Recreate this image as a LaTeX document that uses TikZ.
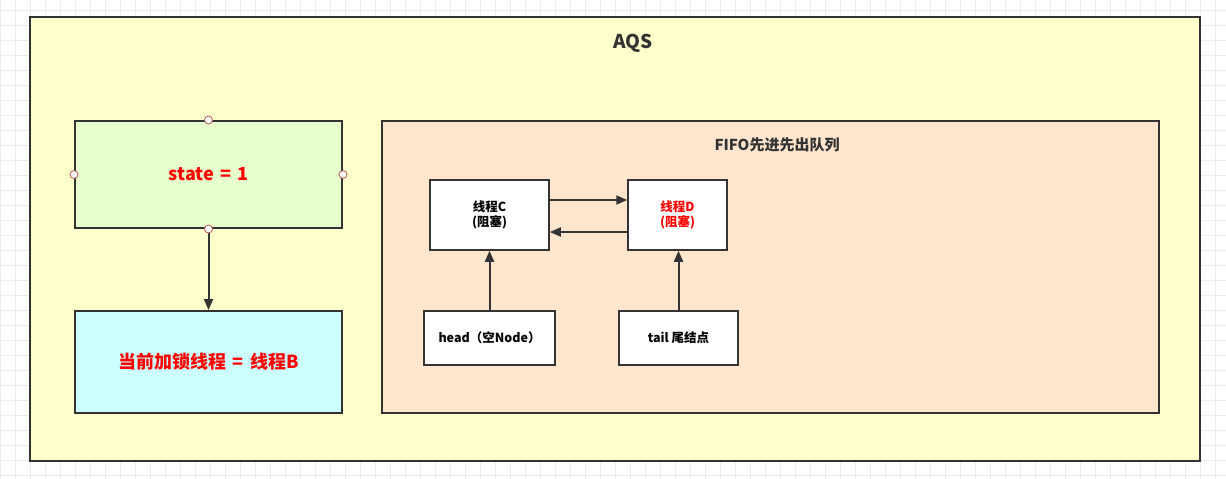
\documentclass[tikz,border=0pt]{standalone}
\usepackage{fontspec}
\setmainfont{Noto Sans CJK SC}
\usetikzlibrary{arrows.meta}
\definecolor{linegray}{HTML}{333333}
\definecolor{aqsyellow}{HTML}{FFFFCC}
\definecolor{stategreen}{HTML}{E6FFCC}
\definecolor{ownercyan}{HTML}{CCFFFF}
\definecolor{queuepeach}{HTML}{FFE6CC}
\definecolor{pinred}{HTML}{B85450}
\definecolor{txtred}{HTML}{FF0000}
\newcommand{\eqgap}{\hspace{0.35em}}
\tikzset{
  box/.style={rectangle, draw=linegray, line width=2pt, align=center, font=\bfseries, inner sep=2pt},
  bigbox/.style={box, font=\bfseries\fontsize{18}{21}\selectfont, text=txtred},
  qnode/.style={box, fill=white, line width=1.5pt, font=\bfseries\fontsize{12.5}{15}\selectfont},
  pin/.style={circle, draw=pinred, fill=white, line width=0.8pt, minimum size=8pt, inner sep=0pt},
  arr/.style={-{Triangle[length=11pt,width=9pt]}, draw=linegray, line width=2pt},
  gridline/.style={draw=gray!15, line width=1pt}
}

\begin{document}
\begin{tikzpicture}[x=1pt, y=-1pt]
\useasboundingbox (0,0) rectangle (1226,479);
\fill[white] (0,0) rectangle (1226,479);
\foreach \gx in {0,15,...,1225} \draw[gridline] (\gx,0) -- (\gx,479);
\foreach \gy in {10,25,...,478} \draw[gridline] (0,\gy) -- (1226,\gy);

% AQS frame
\node[box, fill=aqsyellow, minimum width=1170pt, minimum height=444pt] (aqs) at (615,239) {};
\node[font=\bfseries\fontsize{19}{22}\selectfont, text=linegray] (aqstitle) at (633,43) {AQS};

% left side
\node[bigbox, fill=stategreen, minimum width=267pt, minimum height=107pt] (state) at (208.5,174.5) {state\eqgap{}=\eqgap{}1};
\node[bigbox, fill=ownercyan, minimum width=267pt, minimum height=102pt] (owner) at (208.5,362) {当前加锁线程\eqgap{}=\eqgap{}线程B};
\draw[arr] (state) -- (owner);
\node[pin] at (state.north) {};
\node[pin] at (state.west) {};
\node[pin] at (state.east) {};
\node[pin] at (state.south) {};

% queue
\node[box, fill=queuepeach, minimum width=777pt, minimum height=292pt] (fifo) at (770.5,267) {};
\node[font=\bfseries\fontsize{15}{18}\selectfont, text=linegray] (fifotitle) at (777,145) {FIFO先进先出队列};
\node[qnode, minimum width=119pt, minimum height=70pt] (thc) at (489.5,215) {线程C\\(阻塞)};
\node[qnode, minimum width=99pt, minimum height=70pt, text=txtred] (thd) at (677.5,215) {线程D\\(阻塞)};
\node[qnode, minimum width=131pt, minimum height=54pt] (head) at (489.5,338) {head（空Node）};
\node[qnode, minimum width=119pt, minimum height=54pt] (tail) at (678.5,338) {tail 尾结点};

\draw[arr] ([yshift=15pt]thc.east) -- ([yshift=15pt]thd.west);
\draw[arr] ([yshift=-17pt]thd.west) -- ([yshift=-17pt]thc.east);
\draw[arr] (head) -- (thc);
\draw[arr] (tail) -- ([xshift=1pt]thd.south);
\end{tikzpicture}
\end{document}
